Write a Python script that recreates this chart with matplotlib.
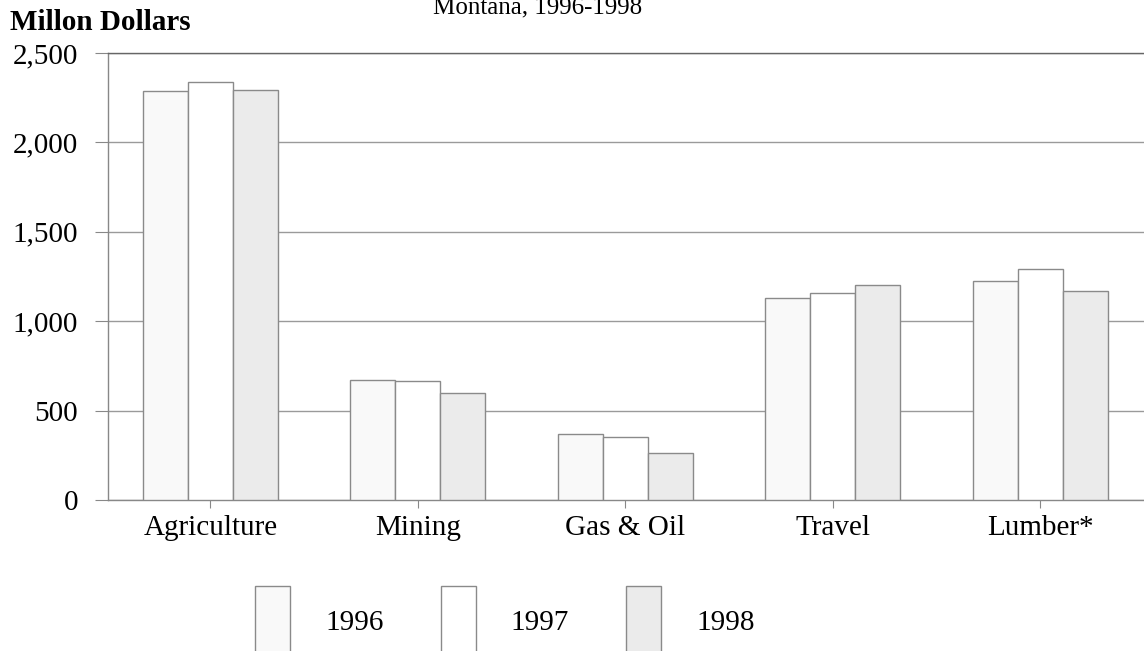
import matplotlib

matplotlib.use("Agg")
import matplotlib.pyplot as plt
import numpy as np

categories = ["Agriculture", "Mining", "Gas & Oil", "Travel", "Lumber*"]
years = ["1996", "1997", "1998"]
values_1996 = [2290, 670, 368, 1130, 1225]
values_1997 = [2340, 665, 352, 1158, 1292]
values_1998 = [2292, 598, 263, 1202, 1169]
yticks = [0, 500, 1000, 1500, 2000, 2500]
ytick_labels = ["0", "500", "1,000", "1,500", "2,000", "2,500"]

plt.rcParams["font.family"] = ["Liberation Serif", "DejaVu Serif"]

fig = plt.figure(figsize=(11.44, 6.51), dpi=100)
ax = fig.add_axes([0.0944, 0.232, 0.9056, 0.6866])

x = np.arange(len(categories))
w = 0.217
# very pale fills, as in the scanned original
facecolors = ["#f9f9f9", "#ffffff", "#ebebeb"]
series = [values_1996, values_1997, values_1998]
handles = []
for i, vals in enumerate(series):
    bars = ax.bar(x + (i - 1) * w, vals, width=w, facecolor=facecolors[i],
                  edgecolor="#8a8a8a", linewidth=1.0, zorder=3, label=years[i])
    handles.append(bars)

ax.set_xlim(-0.493, 4.5)
ax.set_ylim(0, 2500)
ax.set_yticks(yticks)
ax.set_yticklabels(ytick_labels)
ax.set_xticks(x)
ax.set_xticklabels(categories)
ax.yaxis.grid(True, color="#9a9a9a", linewidth=1.0, zorder=0)
ax.set_axisbelow(True)
ax.tick_params(axis="y", direction="out", length=9.5, width=0.8, color="#888888",
               labelsize=21, pad=12)
ax.tick_params(axis="x", direction="out", length=6, width=0.8, color="#888888",
               labelsize=21, pad=5)
for side in ["left", "bottom", "top"]:
    ax.spines[side].set_color("#888888")
    ax.spines[side].set_linewidth(1.0)
ax.spines["top"].set_color("#666666")
ax.spines["right"].set_visible(False)

fig.text(0.009, 1 - 30 / 651, "Millon Dollars", fontsize=21, fontweight="bold",
         va="baseline", ha="left")
fig.text(0.47, 1 - 13 / 651, "Montana, 1996-1998", fontsize=18, va="baseline",
         ha="center")

fig.legend(handles=handles, labels=years, loc="upper left",
           bbox_to_anchor=(255 / 1144, 1 - 586 / 651), ncol=3,
           frameon=False, fontsize=21, handlelength=1.2, handleheight=3.4,
           handletextpad=1.2, columnspacing=1.96, borderpad=0.0, borderaxespad=0.0)

fig.savefig("out.png", dpi=100)
